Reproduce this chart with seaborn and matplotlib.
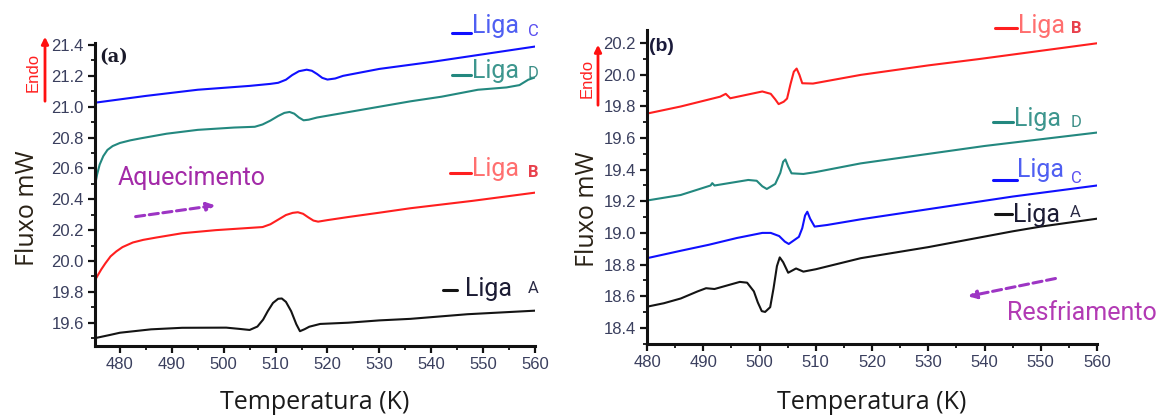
import numpy as np
import pandas as pd
import matplotlib
matplotlib.use("Agg")
import matplotlib.pyplot as plt
from matplotlib.ticker import MultipleLocator, FormatStrFormatter
import seaborn as sns

# ---------------- data: (a) heating ----------------
a_temp_A = [475.2, 478, 480, 486, 492, 500.5, 503, 505, 506.5, 507.6, 508.5, 509.5, 510.5, 511.2, 512, 513, 514, 514.7, 515.6, 516.5, 518.6, 524, 530, 536, 547, 560]
a_flux_A = [19.50, 19.52, 19.535, 19.557, 19.567, 19.568, 19.56, 19.553, 19.575, 19.62, 19.675, 19.728, 19.755, 19.757, 19.735, 19.675, 19.59, 19.545, 19.558, 19.574, 19.592, 19.60, 19.615, 19.625, 19.655, 19.678]

a_temp_B = [475.2, 475.7, 476.4, 477.2, 478.2, 479.3, 480.5, 482.5, 484.5, 487, 492, 498.5, 503, 507.5, 509, 510.5, 512, 513.3, 514.3, 515.3, 516.3, 517.3, 518.2, 520, 524, 530, 536, 548, 560]
a_flux_B = [19.875, 19.905, 19.945, 19.985, 20.03, 20.062, 20.09, 20.12, 20.137, 20.152, 20.18, 20.2, 20.21, 20.22, 20.238, 20.268, 20.298, 20.312, 20.316, 20.306, 20.283, 20.262, 20.255, 20.265, 20.285, 20.313, 20.342, 20.39, 20.443]

a_temp_C = [475.2, 485, 495, 505, 509, 510.5, 512, 513.2, 514.5, 516, 517, 518, 519, 520, 521.5, 523, 530, 540, 550, 560]
a_flux_C = [21.026, 21.07, 21.11, 21.135, 21.148, 21.155, 21.175, 21.205, 21.23, 21.24, 21.233, 21.212, 21.187, 21.176, 21.183, 21.20, 21.245, 21.29, 21.34, 21.39]

a_temp_D = [475.2, 475.6, 476.1, 476.8, 477.6, 478.6, 480, 482, 484, 489, 495, 502, 506, 507.5, 509, 510.5, 511.7, 512.7, 513.6, 514.5, 515.4, 516.4, 518, 524, 530, 536, 542, 549, 554.5, 557, 558.7, 560]
a_flux_D = [20.49, 20.56, 20.625, 20.68, 20.72, 20.745, 20.765, 20.782, 20.795, 20.825, 20.85, 20.865, 20.87, 20.885, 20.91, 20.94, 20.96, 20.966, 20.955, 20.93, 20.912, 20.916, 20.93, 20.965, 21.0, 21.035, 21.065, 21.11, 21.125, 21.14, 21.175, 21.19]

# ---------------- data: (b) cooling ----------------
b_temp_A = [480, 483, 486, 489, 490.5, 492, 496.5, 497.8, 499, 499.7, 500.4, 501, 501.9, 502.5, 503.1, 503.6, 504.2, 505.1, 506.5, 507.8, 510, 518, 530, 545, 550, 560]
b_flux_A = [18.533, 18.555, 18.585, 18.63, 18.65, 18.645, 18.69, 18.685, 18.63, 18.56, 18.505, 18.50, 18.53, 18.65, 18.79, 18.845, 18.815, 18.748, 18.775, 18.755, 18.77, 18.84, 18.91, 19.01, 19.04, 19.09]

b_temp_B = [480, 486, 493, 494, 494.8, 500.5, 502, 502.8, 503.4, 504.3, 504.9, 505.5, 506.1, 506.6, 507.1, 507.6, 509.5, 518, 530, 539, 560]
b_flux_B = [19.755, 19.80, 19.862, 19.88, 19.852, 19.895, 19.88, 19.845, 19.815, 19.83, 19.85, 19.94, 20.02, 20.04, 20.0, 19.947, 19.945, 20.0, 20.06, 20.10, 20.2]

b_temp_C = [480, 486, 491, 496, 497, 500.5, 502, 503.5, 504.5, 505.2, 506.2, 507, 507.6, 508.1, 508.5, 509, 509.8, 512, 518, 530, 545, 560]
b_flux_C = [18.84, 18.887, 18.925, 18.968, 18.975, 19.0, 19.0, 18.98, 18.945, 18.93, 18.955, 18.975, 19.03, 19.11, 19.134, 19.09, 19.04, 19.05, 19.086, 19.15, 19.23, 19.3]

b_temp_D = [480, 486, 491.3, 491.6, 492, 498, 499.5, 500.5, 501.3, 502.8, 503.7, 504.2, 504.6, 505.1, 505.7, 507.8, 510, 518, 530, 540, 560]
b_flux_D = [19.205, 19.24, 19.30, 19.315, 19.30, 19.335, 19.33, 19.295, 19.278, 19.31, 19.38, 19.45, 19.465, 19.42, 19.377, 19.373, 19.385, 19.44, 19.5, 19.55, 19.635]

alloys = ["A", "B", "C", "D"]
line_colors = {"A": "#141414", "B": "#ff1f1f", "C": "#1010ff", "D": "#23887f"}
text_colors = {"A": "#1c1c34", "B": "#ff6f6f", "C": "#4f5ff2", "D": "#3d968e"}
sub_colors = {"A": "#2a2a44", "B": "#e8404c", "C": "#5a4ff0", "D": "#3d8f88"}


def frame(temps, fluxes):
    rows = []
    for k in alloys:
        for t, f in zip(temps[k], fluxes[k]):
            rows.append({"Temperatura": t, "Fluxo": f, "Liga": k})
    return pd.DataFrame(rows)


df_a = frame({"A": a_temp_A, "B": a_temp_B, "C": a_temp_C, "D": a_temp_D},
             {"A": a_flux_A, "B": a_flux_B, "C": a_flux_C, "D": a_flux_D})
df_b = frame({"A": b_temp_A, "B": b_temp_B, "C": b_temp_C, "D": b_temp_D},
             {"A": b_flux_A, "B": b_flux_B, "C": b_flux_C, "D": b_flux_D})

sns.set_style("ticks")
plt.rcParams["font.family"] = ["Liberation Sans", "DejaVu Sans"]

W, H = 1173, 416
fig = plt.figure(figsize=(W / 100, H / 100), dpi=100)


def fpx(x, y):
    return (x / W, 1 - y / H)


ax_a = fig.add_axes([95 / W, 1 - 346 / H, 440 / W, 303 / H])
ax_b = fig.add_axes([647 / W, 1 - 344 / H, 450 / W, 314 / H])

for ax, df in ((ax_a, df_a), (ax_b, df_b)):
    sns.lineplot(data=df, x="Temperatura", y="Fluxo", hue="Liga", palette=line_colors,
                 estimator=None, sort=False, lw=1.5, legend=False, ax=ax)

ax_a.set_xlim(475.2, 560)
ax_a.set_ylim(19.449, 21.413)
ax_b.set_xlim(480, 560)
ax_b.set_ylim(18.297, 20.284)

tick_color = "#3a3f5e"
for ax in (ax_a, ax_b):
    sns.despine(ax=ax)
    for s in ("left", "bottom"):
        ax.spines[s].set_linewidth(2.2)
        ax.spines[s].set_color("#111111")
    ax.xaxis.set_major_locator(MultipleLocator(10))
    ax.xaxis.set_minor_locator(MultipleLocator(5))
    ax.yaxis.set_major_locator(MultipleLocator(0.2))
    ax.yaxis.set_minor_locator(MultipleLocator(0.1))
    ax.yaxis.set_major_formatter(FormatStrFormatter("%.1f"))
    ax.xaxis.set_major_formatter(FormatStrFormatter("%d"))
    ax.tick_params(which="major", length=5, width=1.6, color="#111111",
                   labelsize=12, labelcolor=tick_color, pad=3)
    ax.tick_params(which="minor", length=3, width=1.3, color="#111111")
    ax.set_xlabel("Temperatura (K)", fontsize=18, family=["Open Sans", "DejaVu Sans"], color="#1a1a1a")
    ax.set_ylabel("Fluxo mW", fontsize=18, family=["Open Sans", "DejaVu Sans"], color="#2a2216")

ax_a.set_yticks(np.arange(19.6, 21.41, 0.2))
ax_b.set_yticks(np.arange(18.4, 20.21, 0.2))
ax_a.xaxis.set_label_coords(0.5, -0.145)
ax_b.xaxis.set_label_coords(0.5, -0.146)
ax_a.yaxis.set_label_coords(-0.125, 0.455)
ax_b.yaxis.set_label_coords(-0.104, 0.43)

# panel tags
fig.text(*fpx(99, 62), "(a)", fontsize=13, fontweight="bold", family=["DejaVu Serif"], color="#1a1a2a")
fig.text(*fpx(649, 51), "(b)", fontsize=14, fontweight="bold", color="#1a1a3a")

# endothermic direction markers
for ax_x, txt_x, y0, y1, ty in ((45, 33, 104, 34, 72), (598, 587, 108, 42, 78)):
    fig.add_artist(matplotlib.patches.FancyArrowPatch(
        fpx(ax_x, y0), fpx(ax_x, y1), transform=fig.transFigure,
        arrowstyle="-|>", mutation_scale=10, color="#ff1010", lw=2))
    fig.text(*fpx(txt_x, ty), "Endo", rotation=90, fontsize=12, color="#ff2020",
             ha="center", va="center")

roboto = ["Roboto", "DejaVu Sans"]

# alloy labels: (key, line x0, line x1, line y, text x, baseline, sub x, sub baseline)
labels = [
    ("C", 452, 471, 33, 472, 33, 528, 36),
    ("D", 452, 471, 75, 472, 78, 528, 78),
    ("B", 450, 471, 173, 472, 176, 528, 177),
    ("A", 443, 457, 290, 465, 296, 528, 293),
    ("B", 995, 1017, 28, 1018, 33, 1071, 33),
    ("D", 993, 1013, 122, 1014, 126, 1071, 127),
    ("C", 993, 1017, 180, 1017, 177, 1071, 183),
    ("A", 995, 1012, 214, 1013, 222, 1070, 217),
]
for k, lx0, lx1, ly, tx, tb, sx, sb in labels:
    (x0, yy), (x1, _) = fpx(lx0, ly), fpx(lx1, ly)
    fig.add_artist(matplotlib.lines.Line2D([x0, x1], [yy, yy], color=line_colors[k], lw=2.2))
    fig.text(*fpx(tx, tb), "Liga", fontsize=18, family=roboto, color=text_colors[k], va="baseline")
    fig.text(*fpx(sx, sb), k, fontsize=12, family=roboto, color=sub_colors[k], va="baseline",
             fontweight="bold" if k == "B" else "normal")

# process annotations
fig.text(*fpx(118, 185), "Aquecimento", fontsize=18, family=roboto, color="#a32aa8", va="baseline")
fig.text(*fpx(1007, 320), "Resfriamento", fontsize=18, family=roboto, color="#b23ab4", va="baseline")

arrow_kw = dict(arrowstyle="-|>", color="#9d35c4", lw=2.2, linestyle=(0, (3, 1.5)), mutation_scale=12)
ax_a.annotate("", xy=(498.9, 20.363), xytext=(482.5, 20.285), arrowprops=arrow_kw, annotation_clip=False)
ax_b.annotate("", xy=(536.6, 18.595), xytext=(553.1, 18.715), arrowprops=arrow_kw, annotation_clip=False)

fig.savefig("out.png", dpi=100)
